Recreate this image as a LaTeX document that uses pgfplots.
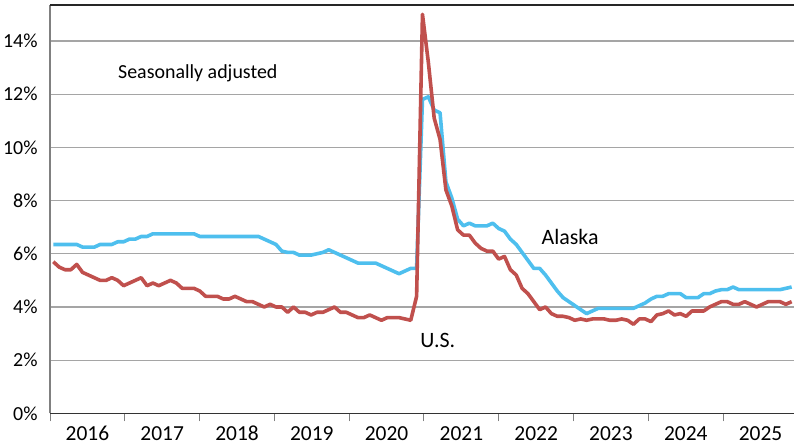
\documentclass[border=0pt]{standalone}
\usepackage{fontspec}
\setmainfont{Carlito}
\usepackage{pgfplots}
\pgfplotsset{compat=1.18}
\usepackage{pgfplotstable}
\definecolor{akblue}{RGB}{78,191,238}
\definecolor{usred}{RGB}{192,80,77}
\definecolor{gridgray}{RGB}{165,165,165}
\pgfplotstableread{
n us ak
0 5.7 6.35
1 5.5 6.35
2 5.4 6.35
3 5.4 6.35
4 5.6 6.35
5 5.3 6.25
6 5.2 6.25
7 5.1 6.25
8 5.0 6.35
9 5.0 6.35
10 5.1 6.35
11 5.0 6.45
12 4.8 6.45
13 4.9 6.55
14 5.0 6.55
15 5.1 6.65
16 4.8 6.65
17 4.9 6.75
18 4.8 6.75
19 4.9 6.75
20 5.0 6.75
21 4.9 6.75
22 4.7 6.75
23 4.7 6.75
24 4.7 6.75
25 4.6 6.65
26 4.4 6.65
27 4.4 6.65
28 4.4 6.65
29 4.3 6.65
30 4.3 6.65
31 4.4 6.65
32 4.3 6.65
33 4.2 6.65
34 4.2 6.65
35 4.1 6.65
36 4.0 6.55
37 4.1 6.45
38 4.0 6.35
39 4.0 6.1
40 3.8 6.05
41 4.0 6.05
42 3.8 5.95
43 3.8 5.95
44 3.7 5.95
45 3.8 6.0
46 3.8 6.05
47 3.9 6.15
48 4.0 6.05
49 3.8 5.95
50 3.8 5.85
51 3.7 5.75
52 3.6 5.65
53 3.6 5.65
54 3.7 5.65
55 3.6 5.65
56 3.5 5.55
57 3.6 5.45
58 3.6 5.35
59 3.6 5.25
60 3.55 5.35
61 3.5 5.45
62 4.4 5.45
63 15.0 11.8
64 13.2 11.9
65 11.1 11.4
66 10.3 11.3
67 8.4 8.7
68 7.8 8.1
69 6.9 7.3
70 6.7 7.05
71 6.7 7.15
72 6.4 7.05
73 6.2 7.05
74 6.1 7.05
75 6.1 7.15
76 5.8 6.95
77 5.9 6.85
78 5.4 6.55
79 5.2 6.35
80 4.7 6.05
81 4.5 5.75
82 4.2 5.45
83 3.9 5.45
84 4.0 5.2
85 3.75 4.9
86 3.65 4.6
87 3.65 4.35
88 3.6 4.2
89 3.5 4.05
90 3.55 3.9
91 3.5 3.75
92 3.55 3.85
93 3.55 3.95
94 3.55 3.95
95 3.5 3.95
96 3.5 3.95
97 3.55 3.95
98 3.5 3.95
99 3.35 3.95
100 3.55 4.05
101 3.55 4.15
102 3.45 4.3
103 3.7 4.4
104 3.75 4.4
105 3.85 4.5
106 3.7 4.5
107 3.75 4.5
108 3.65 4.35
109 3.85 4.35
110 3.85 4.35
111 3.85 4.5
112 4.0 4.5
113 4.1 4.6
114 4.2 4.65
115 4.2 4.65
116 4.1 4.75
117 4.1 4.65
118 4.2 4.65
119 4.1 4.65
120 4.0 4.65
121 4.1 4.65
122 4.2 4.65
123 4.2 4.65
124 4.2 4.65
125 4.1 4.7
126 4.2 4.75
}\data

\begin{document}
\begin{tikzpicture}
\useasboundingbox (-50bp,-33.6bp) rectangle (744bp,413.4bp);
\begin{axis}[
  at={(0,0)}, anchor=south west,
  scale only axis, width=744bp, height=408.4bp,
  xmin=-0.56, xmax=126.4, ymin=0, ymax=15.35,
  axis x line*=bottom, axis y line*=left,
  x axis line style={line width=1.2bp, black!80},
  y axis line style={line width=1.2bp, black!50},
  xtick={5.82,18.58,31.35,44.11,56.87,69.64,82.40,95.16,107.93,120.69},
  xticklabels={2016,2017,2018,2019,2020,2021,2022,2023,2024,2025},
  minor xtick={-0.56,12.20,24.97,37.73,50.49,63.26,76.02,88.78,101.54,114.31},
  tick align=outside,
  major x tick style={draw=none},
  minor x tick style={black!50, line width=1bp},
  minor tick length=8bp,
  ytick={0,2,4,6,8,10,12,14},
  ytick style={draw=none},
  ymajorgrids,
  major grid style={gridgray, line width=1.2bp},
  /pgf/number format/assume math mode=true,
  yticklabel={\pgfmathprintnumber{\tick}\%},
  yticklabel style={font=\fontsize{20}{24}\selectfont, anchor=east, inner sep=0pt, xshift=-8bp},
  xticklabel style={font=\fontsize{21.5}{25}\selectfont, anchor=north, inner sep=0pt, yshift=-8.5bp},
  clip=true,
]
\draw[black!85, line width=1.2bp] (rel axis cs:0,1) -- (rel axis cs:1,1);
\addplot[akblue, line width=3.6bp, line join=round] table[x=n, y=ak] {\data};
\addplot[usred, line width=3.6bp, line join=round] table[x=n, y=us] {\data};
\node[anchor=west, inner sep=0pt, font=\fontsize{20}{24}\selectfont] at (axis cs:11.04,12.8) {Seasonally adjusted};
\node[anchor=west, inner sep=0pt, font=\fontsize{22}{26}\selectfont] at (axis cs:83.3,6.64) {Alaska};
\node[anchor=west, inner sep=0pt, font=\fontsize{22}{26}\selectfont] at (axis cs:62.6,2.73) {U.S.};
\end{axis}
\end{tikzpicture}
\end{document}
